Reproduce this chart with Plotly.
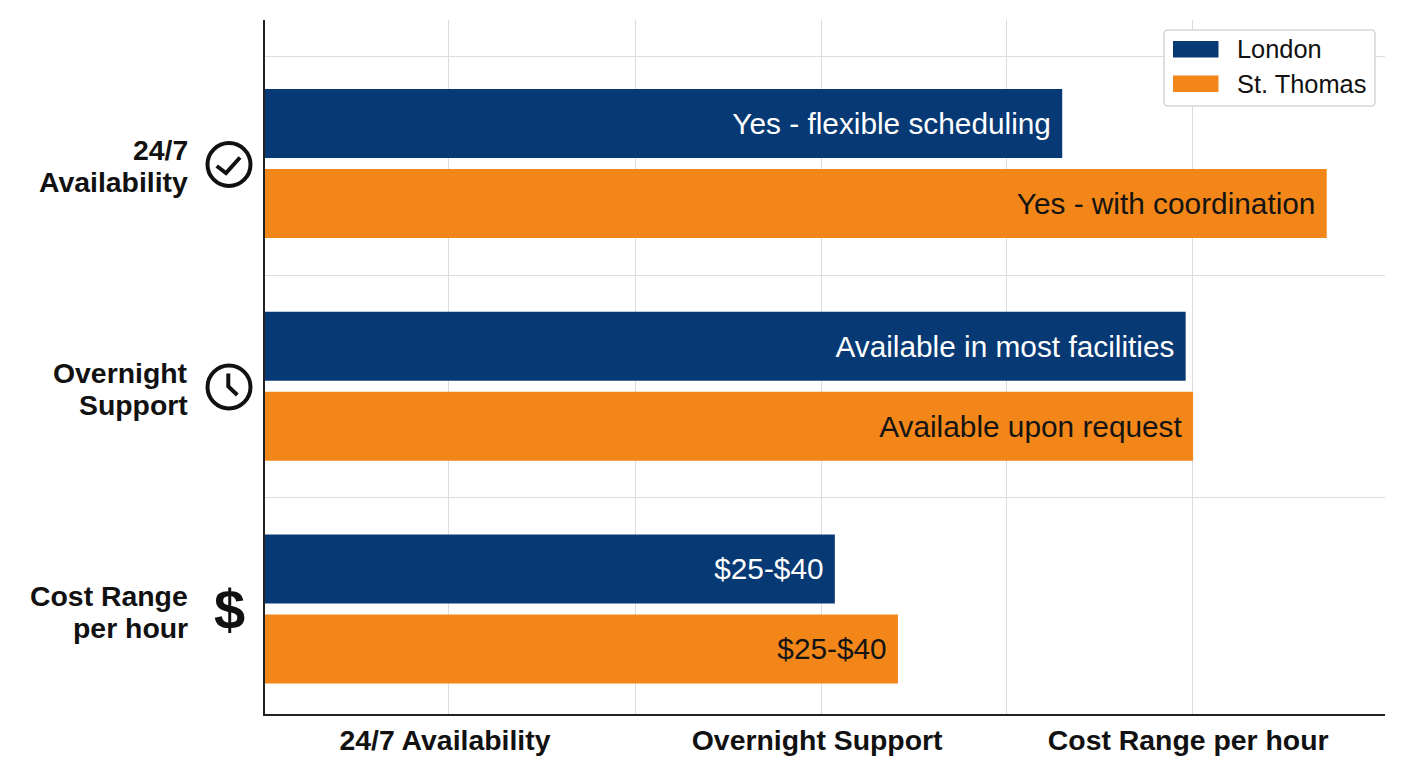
import plotly.graph_objects as go

WIDTH = 1408
HEIGHT = 768
FONT = "Liberation Sans"
NAVY = "#073a74"
ORANGE = "#f28618"
GRID = "#dcdcdc"

categories = ["24/7 Availability", "Overnight Support", "Cost Range per hour"]
row_labels = [["24/7", "Availability"], ["Overnight", "Support"], ["Cost Range", "per hour"]]
london_values = [4.295, 4.96, 3.07]
thomas_values = [5.72, 5.00, 3.41]
london_text = ["Yes - flexible scheduling", "Available in most facilities", "$25-$40"]
thomas_text = ["Yes - with coordination", "Available upon request", "$25-$40"]
x_ticks = [0.991, 1.994, 2.996, 3.993, 4.995, 6.034]
x_tick_text = ["24/7 Availability\u00a0", "", "Overnight Support\u00a0", "", "Cost Range per hour\u00a0", ""]
y_grid = [-0.48, 0.505, 1.5]


# pixel position on the page -> paper coords
def px(x):
    return (x - 265) / (1385 - 265)


def py(y):
    return (714 - y) / (714 - 20)


def paper_shape(**kw):
    return dict(xref="paper", yref="paper", **kw)


def ring(cx, cy, r):
    return paper_shape(type="circle", x0=px(cx - r), x1=px(cx + r), y0=py(cy + r), y1=py(cy - r),
                       line=dict(color="#111111", width=4))


def stroke(points):
    path = "M" + " L".join(f"{px(x):.5f},{py(y):.5f}" for x, y in points)
    return paper_shape(type="path", path=path, line=dict(color="#111111", width=4))


fig = go.Figure()
fig.add_bar(y=categories, x=london_values, name="London", orientation="h", marker=dict(color=NAVY, line_width=0),
            text=[t + "\u00a0" for t in london_text], textposition="inside", insidetextanchor="end",
            textangle=0, constraintext="none", insidetextfont=dict(color="white", size=29.8, family=FONT),
            showlegend=False)
fig.add_bar(y=categories, x=thomas_values, name="St. Thomas", orientation="h", marker=dict(color=ORANGE, line_width=0),
            text=[t + "\u00a0" for t in thomas_text], textposition="inside", insidetextanchor="end",
            textangle=0, constraintext="none", insidetextfont=dict(color="#141414", size=29.8, family=FONT),
            showlegend=False)

shapes = []
# icons next to the row labels
shapes.append(ring(229, 164.5, 21.5))
shapes.append(stroke([(216.7, 166), (226, 173), (240, 157.5)]))
shapes.append(ring(229, 387, 21.5))
shapes.append(stroke([(228.3, 373.5), (228.3, 386.5), (237.3, 395)]))
# legend drawn by hand, plotly's bar swatches are too small
shapes.append(paper_shape(type="path", line=dict(color="#d6d6d6", width=1.5), fillcolor="white",
                          path="M{},{} L{},{} Q{},{} {},{} L{},{} Q{},{} {},{} L{},{} Q{},{} {},{} L{},{} Q{},{} {},{} Z".format(
                              px(1168), py(30), px(1371), py(30), px(1375), py(30), px(1375), py(34),
                              px(1375), py(102), px(1375), py(106), px(1371), py(106),
                              px(1168), py(106), px(1164), py(106), px(1164), py(102),
                              px(1164), py(34), px(1164), py(30), px(1168), py(30))))
shapes.append(paper_shape(type="rect", x0=px(1173), x1=px(1218.5), y0=py(57.5), y1=py(41), fillcolor=NAVY, line_width=0))
shapes.append(paper_shape(type="rect", x0=px(1173), x1=px(1218.5), y0=py(92), y1=py(75.5), fillcolor=ORANGE, line_width=0))

annotations = []
for cat, lines in zip(categories, row_labels):
    for line, shift in zip(lines, [13, -19]):
        annotations.append(dict(text=f"<b>{line}</b>", xref="paper", yref="y", x=px(189.5), y=cat, xanchor="right",
                                yanchor="middle", yshift=shift, showarrow=False,
                                font=dict(size=28.4, color="#111111", family=FONT)))
annotations.append(dict(text="<b>$</b>", xref="paper", yref="paper", x=px(229), y=py(609), xanchor="center",
                        yanchor="middle", showarrow=False, font=dict(size=56, color="#111111", family=FONT)))
for name, y in zip(["London", "St. Thomas"], [49, 83.5]):
    annotations.append(dict(text=name, xref="paper", yref="paper", x=px(1234.5), y=py(y), xanchor="left",
                            yanchor="middle", showarrow=False, font=dict(size=25.4, color="#111111", family=FONT)))

fig.update_layout(
    width=WIDTH,
    height=HEIGHT,
    margin=dict(l=265, r=23, t=20, b=54, autoexpand=False),
    paper_bgcolor="white",
    plot_bgcolor="white",
    barmode="group",
    bargap=0.2815,
    bargroupgap=0.1375,
    showlegend=False,
    shapes=shapes,
    annotations=annotations,
    font=dict(family=FONT, color="#111111"),
    xaxis=dict(range=[0, 6.034], tickmode="array", tickvals=x_ticks, ticktext=x_tick_text, showgrid=True,
               gridcolor=GRID, gridwidth=1, zeroline=False, showline=True, linecolor="#222222", linewidth=1.6,
               ticks="", tickfont=dict(size=28.4, color="#111111", family=FONT, weight="bold")),
    yaxis=dict(type="category", categoryorder="array", categoryarray=categories, range=[2.4715, -0.644],
               tickmode="array", tickvals=y_grid, showticklabels=False, showgrid=True, gridcolor=GRID, gridwidth=1,
               zeroline=False, showline=True, linecolor="#222222", linewidth=1.6, ticks=""),
)

fig.write_html("out.html", config=dict(displayModeBar=False),
               post_script="document.body.style.margin='0';document.body.style.overflow='hidden';")
